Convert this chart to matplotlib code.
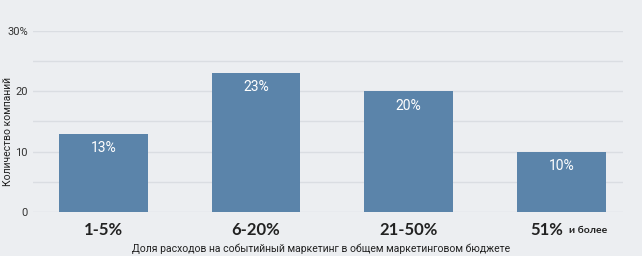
import matplotlib.pyplot as plt
import matplotlib.transforms as mtransforms
import numpy as np

# данные
categories = ['1-5%', '6-20%', '21-50%', '51%']
values = [13, 23, 20, 10]
value_labels = ['13%', '23%', '20%', '10%']
ytick_values = [0, 10, 20, 30]
ytick_labels = ['0', '10', '20', '30%']

bg = '#eceef1'
bar_color = '#5b84aa'
grid_color = '#dadde2'

fig = plt.figure(figsize=(6.42, 2.56), dpi=100, facecolor=bg)
ax = fig.add_axes([0.052, 0.172, 0.919, 0.707], facecolor=bg)

x = np.arange(len(categories))
bars = ax.bar(x, values, width=0.58, color=bar_color, zorder=3)

for xx, v, lab in zip(x, values, value_labels):
    ax.text(xx, v - 1.2, lab, ha='center', va='top', color='white',
            fontsize=10, family='Roboto', zorder=4)

ax.set_xlim(-0.458, 3.406)
ax.set_ylim(0, 30)

ax.set_yticks(ytick_values)
ax.set_yticklabels(ytick_labels, family='Roboto', fontsize=8, color='#333333')
ax.set_yticks([5, 15, 25], minor=True)
ax.tick_params(axis='y', which='both', length=0, pad=4)
ax.grid(axis='y', which='both', color=grid_color, linewidth=1, zorder=0)

ax.set_xticks([])
trans = mtransforms.blended_transform_factory(ax.transData, ax.transAxes)
for xx, cat in zip(x[:3], categories[:3]):
    ax.text(xx, -0.1, cat, transform=trans, ha='center', va='center',
            fontsize=12, family='Lato', fontweight='bold', color='#222222')
ax.text(x[3] + 0.01, -0.1, categories[3], transform=trans, ha='right', va='center',
        fontsize=12, family='Lato', fontweight='bold', color='#222222')
ax.text(x[3] + 0.05, -0.105, 'и более', transform=trans, ha='left', va='center',
        fontsize=7.5, family='Lato', fontweight='bold', color='#222222')

for s in ax.spines.values():
    s.set_visible(False)

fig.text(0.5, 0.03, 'Доля расходов на событийный маркетинг в общем маркетинговом бюджете',
         ha='center', va='center', fontsize=7.5, family='Roboto', color='#222222')
fig.text(0.013, 0.485, 'Количество компаний', rotation=90, ha='center', va='center',
         fontsize=7.5, family='Roboto', color='#222222')

fig.savefig('out.png', dpi=100, facecolor=bg)
